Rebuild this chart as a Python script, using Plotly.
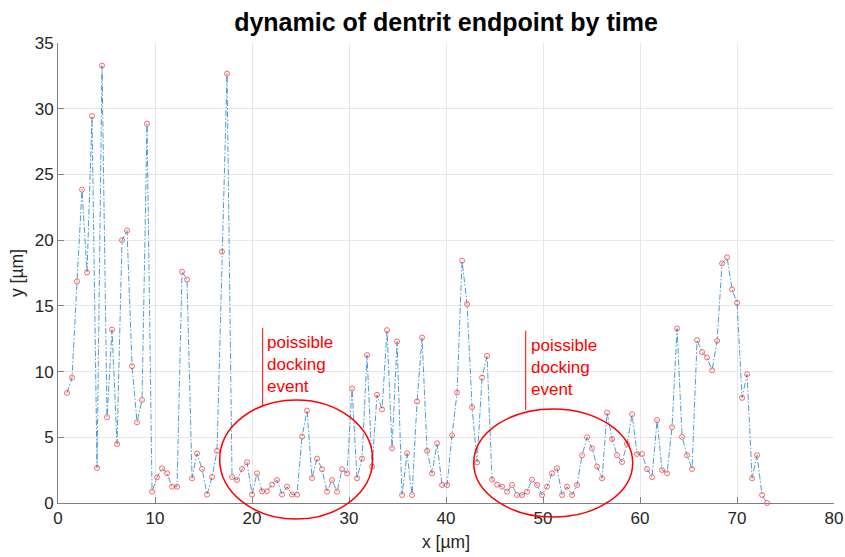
import numpy as np
import plotly.graph_objects as go

# endpoint displacement sampled at a fixed time step
X_START = 0.93
X_STEP = 0.5155

y_um = [
    8.38, 9.54, 16.86, 23.84, 17.54, 29.45, 2.67, 33.28, 6.52, 13.2,
    4.49, 20.0, 20.74, 10.41, 6.14, 7.84, 28.86, 0.86, 1.95, 2.64,
    2.26, 1.24, 1.24, 17.6, 17.0, 1.88, 3.76, 2.59, 0.64, 1.98,
    3.96, 19.12, 32.67, 1.98, 1.75, 2.59, 3.1, 0.64, 2.26, 0.89,
    0.89, 1.4, 1.75, 0.64, 1.24, 0.64, 0.64, 5.05, 7.03, 1.9,
    3.38, 2.57, 0.86, 1.75, 0.86, 2.57, 2.26, 8.71, 1.88, 3.38,
    11.25, 2.77, 8.23, 7.13, 13.15, 4.16, 12.29, 0.61, 3.78, 0.61,
    7.72, 12.59, 3.96, 2.26, 4.54, 1.37, 1.37, 5.15, 8.4, 18.43,
    15.13, 7.29, 3.1, 9.54, 11.2, 1.78, 1.4, 1.24, 0.86, 1.37,
    0.61, 0.61, 0.86, 1.78, 1.37, 0.61, 1.24, 2.26, 2.64, 0.61,
    1.24, 0.61, 1.37, 3.63, 5.0, 4.16, 2.77, 1.88, 6.88, 4.87,
    3.63, 3.12, 4.49, 6.75, 3.73, 3.73, 2.57, 1.96, 6.3, 2.51,
    2.26, 5.77, 13.28, 5.03, 3.63, 2.59, 12.39, 11.48, 11.07, 10.1,
    12.34, 18.23, 18.69, 16.25, 15.23, 8.0, 9.8, 1.88, 3.63, 0.61,
    0.0,
]
x_um = X_START + X_STEP * np.arange(len(y_um))

X_RANGE = [0, 80]
Y_RANGE = [0, 35]
x_ticks = [0, 10, 20, 30, 40, 50, 60, 70, 80]
y_ticks = [0, 5, 10, 15, 20, 25, 30, 35]

# highlighted regions: (x_left, x_right, y_bottom, y_top)
events = [
    (16.67, 32.44, -1.22, 7.84),
    (42.86, 59.25, -1.07, 7.16),
]
# label anchor (x, y) and marker line (x, y_bottom, y_top)
event_labels = [(21.3, 10.51), (48.52, 10.28)]
event_lines = [(21.1, 7.46, 13.33), (48.22, 7.08, 13.1)]
event_text = "poissible<br>docking<br>event"

RED = "#ff0000"
FONT = "Liberation Sans, Arial, Helvetica, sans-serif"


def px(x):
    return (x - X_RANGE[0]) / (X_RANGE[1] - X_RANGE[0])


def py(y):
    return (y - Y_RANGE[0]) / (Y_RANGE[1] - Y_RANGE[0])


fig = go.Figure()
fig.add_trace(go.Scatter(
    x=x_um, y=y_um, mode="lines+markers",
    line=dict(color="#0072BD", width=0.7, dash="6px,2px,1.5px,2px"),
    marker=dict(symbol="circle-open", size=5, color="rgba(255,30,30,0.85)",
                line=dict(width=0.8)),
    cliponaxis=False, showlegend=False,
))

shapes = []
for x0, x1, y0, y1 in events:
    shapes.append(dict(type="circle", xref="paper", yref="paper",
                       x0=px(x0), x1=px(x1), y0=py(y0), y1=py(y1),
                       line=dict(color=RED, width=1.5)))
for x, y0, y1 in event_lines:
    shapes.append(dict(type="line", xref="paper", yref="paper",
                       x0=px(x), x1=px(x), y0=py(y0), y1=py(y1),
                       line=dict(color=RED, width=1)))

annotations = [dict(x=px(x), y=py(y), xref="paper", yref="paper",
                    text=event_text, showarrow=False, xanchor="left",
                    yanchor="middle", align="left",
                    font=dict(family=FONT, size=17, color=RED))
               for x, y in event_labels]

axis_common = dict(
    showgrid=True, gridcolor="#e6e6e6", gridwidth=1,
    showline=True, linecolor="#808080", linewidth=1,
    ticks="inside", ticklen=6, tickcolor="#808080",
    tickfont=dict(family=FONT, size=17, color="#262626"),
    zeroline=False, mirror=False, automargin=False,
)

fig.update_layout(
    width=845, height=557,
    margin=dict(l=58, r=11, t=43, b=54),
    paper_bgcolor="white", plot_bgcolor="white",
    title=dict(text="<b>dynamic of dentrit endpoint by time</b>",
               x=0.5, xanchor="center", y=0.96, yanchor="middle",
               xref="paper",
               font=dict(family=FONT, size=25, color="black")),
    xaxis=dict(range=X_RANGE, tickvals=x_ticks,
               title=dict(text="x [µm]", standoff=8,
                          font=dict(family=FONT, size=17.5, color="#262626")),
               **axis_common),
    yaxis=dict(range=Y_RANGE, tickvals=y_ticks,
               title=dict(text="y [µm]", standoff=6,
                          font=dict(family=FONT, size=17.5, color="#262626")),
               **axis_common),
    shapes=shapes,
    annotations=annotations,
)

fig.write_html("out.html")
